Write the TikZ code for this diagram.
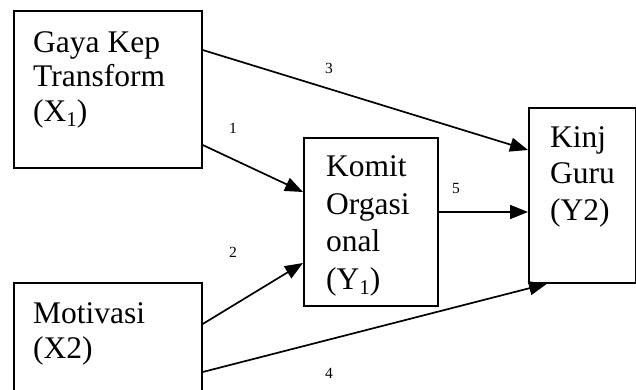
\documentclass[tikz,border=0pt]{standalone}
\usepackage{fontspec}
\setmainfont{Liberation Serif}
\usetikzlibrary{arrows.meta}

% subscript in the style of a word processor
\newcommand{\lowsub}[1]{\raisebox{-5pt}{\fontsize{21}{21}\selectfont #1}}

\tikzset{
  varbox/.style={draw, line width=1.7pt, inner sep=0pt, anchor=north west},
  boxtext/.style={anchor=base west, inner sep=0pt},
  pathlabel/.style={font=\fontsize{15.5}{15.5}\selectfont, inner sep=0pt},
  effect/.style={line width=1.7pt, -{Triangle[length=18pt,width=14pt]}},
}

\newcommand{\boxlines}[2]{\parbox[t]{150pt}{\raggedright\fontsize{31.5}{#1}\selectfont #2}}

\begin{document}
\begin{tikzpicture}[x=1pt, y=-1pt]
  \useasboundingbox (0,0) rectangle (636,390);

  % variable boxes
  \node[varbox, minimum width=188pt, minimum height=157pt] (X1) at (13,10) {};
  \node[varbox, minimum width=188pt, minimum height=130pt] (X2) at (13,282) {};
  \node[varbox, minimum width=134pt, minimum height=168pt] (Y1) at (303,137) {};
  \node[varbox, minimum width=107pt, minimum height=175pt] (Y2) at (528,107) {};

  % box texts
  \node[boxtext] (tX1) at (33,52.3) {\boxlines{34.7pt}{Gaya Kep\\Transform\\(X\lowsub{1})}};
  \node[boxtext] (tX2) at (33,323) {\boxlines{35pt}{Motivasi\\(X2)}};
  \node[boxtext] (tY1) at (326,176.7) {\boxlines{37.5pt}{Komit\\Orgasi\\onal\\(Y\lowsub{1})}};
  \node[boxtext] (tY2) at (550,147) {\boxlines{36.5pt}{Kinj\\Guru\\(Y2)}};

  % paths
  \draw[effect] ([yshift=-40pt]X1.north east) -- ([yshift=-43pt]Y2.north west);
  \draw[effect] ([yshift=-135pt]X1.north east) -- ([yshift=-55pt]Y1.north west);
  \draw[effect] ([yshift=-42pt]X2.north east) -- ([yshift=-126pt]Y1.north west);
  \draw[effect] ([yshift=-75pt]Y1.north east) -- ([yshift=-105pt]Y2.north west);
  \draw[effect] ([yshift=-90pt]X2.north east) -- ([xshift=19pt]Y2.south west);

  % path numbers
  \node[pathlabel] (p1) at (233,128.5) {1};
  \node[pathlabel] (p2) at (233,252) {2};
  \node[pathlabel] (p3) at (329,68) {3};
  \node[pathlabel] (p4) at (329,373.5) {4};
  \node[pathlabel] (p5) at (456,189) {5};
\end{tikzpicture}
\end{document}
